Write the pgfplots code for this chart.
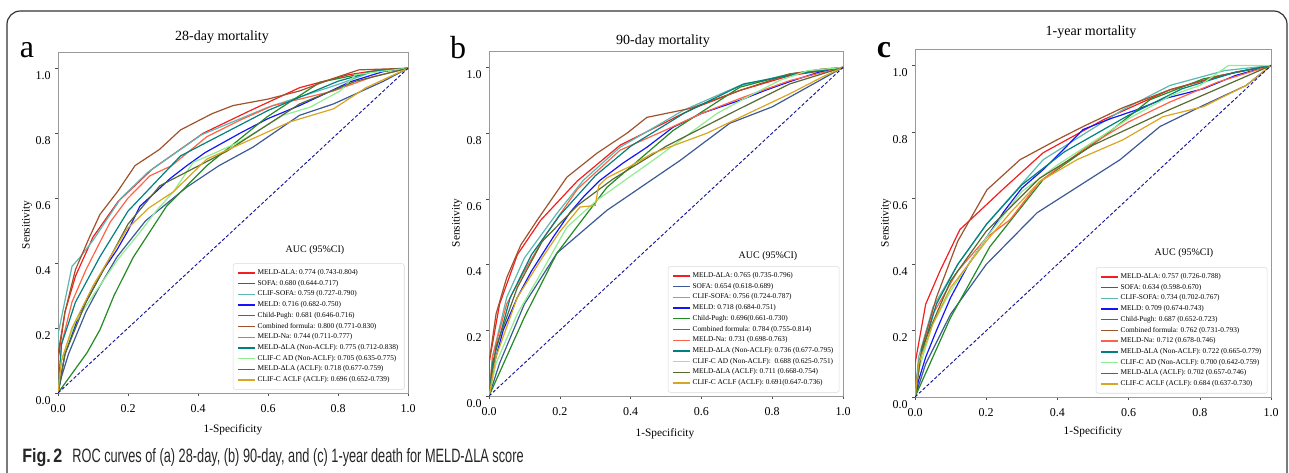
\documentclass[border=0pt]{standalone}
\usepackage{fontspec}
\setmainfont{Liberation Serif}
\newfontfamily\capfont{Liberation Sans}
\usepackage{graphicx}
\usepackage{pgfplots}
\pgfplotsset{compat=1.18}

\definecolor{cMLA}{RGB}{245,30,30}
\definecolor{cSOFA}{RGB}{61,89,151}
\definecolor{cCSOFA}{RGB}{92,184,178}
\definecolor{cMELD}{RGB}{20,20,250}
\definecolor{cCP}{RGB}{34,139,34}
\definecolor{cComb}{RGB}{160,82,45}
\definecolor{cNa}{RGB}{255,99,71}
\definecolor{cNon}{RGB}{0,128,128}
\definecolor{cAD}{RGB}{144,238,144}
\definecolor{cACLF}{RGB}{85,107,47}
\definecolor{cCACLF}{RGB}{218,165,32}
\definecolor{cDiag}{RGB}{20,20,150}

\pgfplotsset{
  rocax/.style={
    scale only axis, anchor=south west,
    xmin=0, xmax=1, ymin=0, ymax=1.05,
    xtick={0,0.2,0.4,0.6,0.8,1.0}, ytick={0,0.2,0.4,0.6,0.8,1.0},
    xticklabels={0.0,0.2,0.4,0.6,0.8,1.0},
    yticklabels={0.0,0.2,0.4,0.6,0.8,1.0},
    xtick pos=bottom, ytick pos=left, tick align=outside,
    major tick length=2pt,
    axis line style={black!40, line width=0.7pt},
    tick style={black!70, line width=0.4pt},
    tick label style={font=\fontsize{9}{10}\selectfont},
    yticklabel style={yshift=-5.5pt},
    xticklabel style={yshift=-3pt},
    every axis plot/.append style={line width=0.9pt},
    legend style={at={(0.99,0.01)}, anchor=south east, draw=black!15, rounded corners=1.5pt,
      fill=white, font=\fontsize{5.5}{6.3}\selectfont, row sep=0pt, inner sep=3pt,
      nodes={inner sep=1.35pt}},
    legend cell align=left,
    legend image code/.code={\draw[##1, line width=1pt] (0pt,0pt) -- (13pt,0pt);},
  },
}

\begin{document}
\begin{tikzpicture}
\begin{scope}[x=0.75pt, y=-0.75pt, shift={(0pt,354pt)}]
  \useasboundingbox (0,0) rectangle (1289,472);
  \draw[black!80, line width=0.9pt, rounded corners=10pt] (7,490) -- (7,11) -- (1287,11) -- (1287,490);
  % panel letters and titles
  \node[font=\fontsize{24}{26}\selectfont] at (27,50) {a};
  \node[font=\fontsize{24}{26}\selectfont] at (458,48) {b};
  \node[font=\fontsize{24}{26}\selectfont\bfseries] at (884,50) {c};
  \node[font=\fontsize{10.5}{12}\selectfont] at (222,37) {28-day mortality};
  \node[font=\fontsize{10.5}{12}\selectfont] at (663,41) {90-day mortality};
  \node[font=\fontsize{10.5}{12}\selectfont] at (1091,32) {1-year mortality};
  % axis labels
  \node[font=\fontsize{8.5}{10}\selectfont, rotate=90] at (27,225) {Sensitivity};
  \node[font=\fontsize{8.5}{10}\selectfont, rotate=90] at (457,223) {Sensitivity};
  \node[font=\fontsize{8.5}{10}\selectfont, rotate=90] at (886,223) {Sensitivity};
  \node[font=\fontsize{8.5}{10}\selectfont] at (233,430) {1-Specificity};
  \node[font=\fontsize{8.5}{10}\selectfont] at (665,434) {1-Specificity};
  \node[font=\fontsize{8.5}{10}\selectfont] at (1093,432) {1-Specificity};
  % AUC headers
  \node[font=\fontsize{7.5}{9}\selectfont] at (315,250) {AUC (95\%CI)};
  \node[font=\fontsize{7.5}{9}\selectfont] at (768,256) {AUC (95\%CI)};
  \node[font=\fontsize{7.5}{9}\selectfont] at (1184,253) {AUC (95\%CI)};
  % caption
  \node[anchor=west, text=black!85, inner sep=0pt] at (22,458) {\capfont\fontsize{14.5}{16}\selectfont\scalebox{0.83}[1]{\textbf{Fig.\,2}}\hspace{7.5pt}\scalebox{0.66}[1]{ROC curves of (a) 28-day, (b) 90-day, and (c) 1-year death for MELD-ΔLA score}};
\end{scope}

% ---------------- panel a ----------------
\begin{axis}[rocax, at={(43.5pt,59.25pt)}, width=262.5pt, height=255.75pt]
\addplot[cMLA] coordinates {(0,0)(0,0.1)(0.02,0.25)(0.05,0.36)(0.10,0.48)(0.172,0.59)(0.27,0.69)(0.415,0.80)(0.55,0.87)(0.69,0.94)(0.83,0.98)(0.92,0.995)(1,1)};
\addlegendentry{MELD-ΔLA: 0.774 (0.743-0.804)}
\addplot[cSOFA] coordinates {(0,0)(0.01,0.05)(0.03,0.12)(0.08,0.25)(0.12,0.33)(0.168,0.418)(0.25,0.53)(0.368,0.634)(0.46,0.70)(0.557,0.757)(0.69,0.855)(0.787,0.89)(0.93,0.96)(1,1)};
\addlegendentry{SOFA: 0.680 (0.644-0.717)}
\addplot[cCSOFA] coordinates {(0,0)(0,0.18)(0.04,0.39)(0.063,0.418)(0.1,0.47)(0.18,0.60)(0.257,0.68)(0.41,0.795)(0.6,0.88)(0.8,0.95)(0.9,0.99)(1,1)};
\addlegendentry{CLIF-SOFA: 0.759 (0.727-0.790)}
\addplot[cMELD] coordinates {(0,0)(0.01,0.06)(0.02,0.12)(0.04,0.18)(0.06,0.24)(0.08,0.28)(0.1,0.32)(0.13,0.38)(0.168,0.44)(0.2,0.50)(0.234,0.575)(0.28,0.62)(0.32,0.66)(0.368,0.70)(0.42,0.74)(0.47,0.77)(0.52,0.80)(0.6,0.845)(0.69,0.885)(0.76,0.92)(0.834,0.958)(0.93,0.99)(1,1)};
\addlegendentry{MELD: 0.716 (0.682-0.750)}
\addplot[cCP] coordinates {(0,0)(0.083,0.124)(0.12,0.195)(0.16,0.30)(0.215,0.418)(0.31,0.575)(0.425,0.70)(0.597,0.85)(0.749,0.957)(0.9,0.99)(1,1)};
\addlegendentry{Child-Pugh: 0.681 (0.646-0.716)}
\addplot[cComb] coordinates {(0,0)(0,0.12)(0.02,0.25)(0.05,0.38)(0.09,0.48)(0.12,0.55)(0.17,0.62)(0.22,0.70)(0.29,0.75)(0.35,0.81)(0.44,0.86)(0.5,0.885)(0.6,0.905)(0.69,0.93)(0.79,0.97)(0.86,0.995)(1,1)};
\addlegendentry{Combined formula: 0.800 (0.771-0.830)}
\addplot[cNa] coordinates {(0,0)(0.01,0.15)(0.04,0.28)(0.08,0.38)(0.149,0.526)(0.2,0.60)(0.263,0.669)(0.325,0.70)(0.425,0.789)(0.52,0.84)(0.614,0.885)(0.787,0.93)(0.897,0.973)(1,1)};
\addlegendentry{MELD-Na: 0.744 (0.711-0.777)}
\addplot[cNon] coordinates {(0,0)(0.01,0.15)(0.05,0.28)(0.12,0.42)(0.2,0.56)(0.35,0.73)(0.6,0.87)(0.8,0.96)(0.9,0.99)(1,1)};
\addlegendentry{MELD-ΔLA (Non-ACLF): 0.775 (0.712-0.838)}
\addplot[cAD] coordinates {(0,0)(0.01,0.1)(0.05,0.22)(0.1,0.3)(0.17,0.41)(0.234,0.495)(0.28,0.56)(0.33,0.62)(0.386,0.71)(0.45,0.74)(0.52,0.774)(0.643,0.855)(0.72,0.88)(0.806,0.93)(0.85,0.98)(0.92,0.99)(1,1)};
\addlegendentry{CLIF-C AD (Non-ACLF): 0.705 (0.635-0.775)}
\addplot[cACLF] coordinates {(0,0)(0.02,0.12)(0.08,0.28)(0.15,0.42)(0.2,0.52)(0.291,0.638)(0.483,0.745)(0.69,0.89)(0.85,0.96)(1,1)};
\addlegendentry{MELD-ΔLA (ACLF): 0.718 (0.677-0.759)}
\addplot[cCACLF] coordinates {(0,0)(0.01,0.1)(0.04,0.2)(0.1,0.33)(0.197,0.505)(0.26,0.57)(0.33,0.62)(0.425,0.72)(0.55,0.78)(0.663,0.835)(0.787,0.875)(0.88,0.94)(0.94,0.97)(1,1)};
\addlegendentry{CLIF-C ACLF (ACLF): 0.696 (0.652-0.739)}
\addplot[cDiag, dash pattern=on 2.5pt off 1.5pt, line width=0.7pt, forget plot] coordinates {(0,0)(1,1)};
\end{axis}

% ---------------- panel b ----------------
\begin{axis}[rocax, at={(366.75pt,57pt)}, width=265.5pt, height=258.75pt]
\addplot[cMLA] coordinates {(0,0)(0,0.1)(0.03,0.28)(0.08,0.43)(0.146,0.535)(0.25,0.655)(0.37,0.763)(0.576,0.875)(0.709,0.93)(0.85,0.975)(1,1)};
\addlegendentry{MELD-ΔLA: 0.765 (0.735-0.796)}
\addplot[cSOFA] coordinates {(0,0)(0.03,0.1)(0.1,0.28)(0.192,0.435)(0.333,0.565)(0.54,0.717)(0.68,0.83)(0.8,0.88)(0.9,0.94)(1,1)};
\addlegendentry{SOFA: 0.654 (0.618-0.689)}
\addplot[cCSOFA] coordinates {(0,0)(0.01,0.12)(0.05,0.3)(0.1,0.42)(0.192,0.556)(0.266,0.656)(0.37,0.757)(0.55,0.87)(0.709,0.945)(0.85,0.98)(1,1)};
\addlegendentry{CLIF-SOFA: 0.756 (0.724-0.787)}
\addplot[cMELD] coordinates {(0,0)(0.01,0.08)(0.04,0.2)(0.08,0.3)(0.12,0.38)(0.181,0.483)(0.23,0.56)(0.27,0.61)(0.313,0.656)(0.38,0.71)(0.446,0.757)(0.52,0.818)(0.6,0.86)(0.709,0.90)(0.78,0.93)(0.85,0.957)(0.93,0.985)(1,1)};
\addlegendentry{MELD: 0.718 (0.684-0.751)}
\addplot[cCP] coordinates {(0,0)(0.05,0.12)(0.1,0.24)(0.192,0.435)(0.333,0.635)(0.52,0.808)(0.709,0.94)(0.85,0.98)(1,1)};
\addlegendentry{Child-Pugh: 0.696(0.661-0.730)}
\addplot[cComb] coordinates {(0,0)(0,0.1)(0.02,0.25)(0.05,0.36)(0.09,0.46)(0.136,0.535)(0.22,0.666)(0.305,0.739)(0.39,0.80)(0.446,0.848)(0.568,0.875)(0.709,0.93)(0.85,0.98)(0.94,0.995)(1,1)};
\addlegendentry{Combined formula: 0.784 (0.755-0.814)}
\addplot[cNa] coordinates {(0,0)(0.01,0.12)(0.05,0.28)(0.1,0.38)(0.16,0.49)(0.25,0.63)(0.37,0.748)(0.5,0.81)(0.6,0.86)(0.72,0.91)(0.85,0.96)(1,1)};
\addlegendentry{MELD-Na: 0.731 (0.698-0.763)}
\addplot[cNon] coordinates {(0,0)(0.01,0.1)(0.06,0.3)(0.12,0.43)(0.2,0.55)(0.3,0.67)(0.4,0.76)(0.55,0.86)(0.72,0.95)(0.87,0.98)(1,1)};
\addlegendentry{MELD-ΔLA (Non-ACLF): 0.736 (0.677-0.795)}
\addplot[cAD] coordinates {(0,0)(0.02,0.1)(0.08,0.25)(0.15,0.38)(0.22,0.514)(0.305,0.596)(0.37,0.646)(0.463,0.717)(0.54,0.778)(0.644,0.86)(0.73,0.91)(0.82,0.96)(0.9,0.99)(1,1)};
\addlegendentry{CLIF-C AD (Non-ACLF):\ \ 0.688 (0.625-0.751)}
\addplot[cACLF] coordinates {(0,0)(0.02,0.15)(0.08,0.33)(0.15,0.47)(0.25,0.58)(0.35,0.66)(0.5,0.76)(0.7,0.87)(0.85,0.95)(1,1)};
\addlegendentry{MELD-ΔLA (ACLF): 0.711 (0.668-0.754)}
\addplot[cCACLF] coordinates {(0,0)(0.02,0.12)(0.08,0.3)(0.15,0.42)(0.2,0.5)(0.257,0.575)(0.3,0.58)(0.31,0.64)(0.333,0.664)(0.4,0.70)(0.463,0.739)(0.616,0.80)(0.709,0.848)(0.85,0.92)(0.94,0.97)(1,1)};
\addlegendentry{CLIF-C ACLF (ACLF): 0.691(0.647-0.736)}
\addplot[cDiag, dash pattern=on 2.5pt off 1.5pt, line width=0.7pt, forget plot] coordinates {(0,0)(1,1)};
\end{axis}

% ---------------- panel c ----------------
\begin{axis}[rocax, at={(686.25pt,56.25pt)}, width=267pt, height=261pt]
\addplot[cMLA] coordinates {(0,0)(0,0.1)(0.03,0.28)(0.07,0.38)(0.126,0.505)(0.25,0.63)(0.36,0.737)(0.53,0.837)(0.716,0.927)(0.9,0.98)(1,1)};
\addlegendentry{MELD-ΔLA: 0.757 (0.726-0.788)}
\addplot[cSOFA] coordinates {(0,0)(0.03,0.1)(0.1,0.25)(0.2,0.4)(0.343,0.556)(0.576,0.716)(0.688,0.816)(0.81,0.88)(0.93,0.94)(1,1)};
\addlegendentry{SOFA: 0.634 (0.598-0.670)}
\addplot[cCSOFA] coordinates {(0,0)(0.01,0.12)(0.05,0.27)(0.12,0.4)(0.202,0.523)(0.36,0.716)(0.584,0.867)(0.716,0.94)(0.87,0.985)(1,1)};
\addlegendentry{CLIF-SOFA: 0.734 (0.702-0.767)}
\addplot[cMELD] coordinates {(0,0)(0.01,0.05)(0.03,0.12)(0.06,0.2)(0.1,0.3)(0.15,0.4)(0.202,0.483)(0.25,0.56)(0.3,0.63)(0.36,0.686)(0.42,0.75)(0.472,0.807)(0.55,0.84)(0.624,0.867)(0.7,0.9)(0.81,0.93)(0.9,0.97)(1,1)};
\addlegendentry{MELD: 0.709 (0.674-0.743)}
\addplot[cCP] coordinates {(0,0)(0.05,0.12)(0.1,0.24)(0.21,0.453)(0.36,0.656)(0.53,0.786)(0.66,0.897)(0.81,0.96)(1,1)};
\addlegendentry{Child-Pugh: 0.687 (0.652-0.723)}
\addplot[cComb] coordinates {(0,0)(0.02,0.15)(0.06,0.3)(0.12,0.47)(0.202,0.625)(0.295,0.716)(0.399,0.776)(0.472,0.816)(0.584,0.873)(0.716,0.927)(0.857,0.97)(1,1)};
\addlegendentry{Combined formula: 0.762 (0.731-0.793)}
\addplot[cNa] coordinates {(0,0)(0.01,0.1)(0.05,0.25)(0.12,0.38)(0.2,0.48)(0.267,0.535)(0.35,0.65)(0.483,0.755)(0.6,0.83)(0.716,0.89)(0.85,0.95)(1,1)};
\addlegendentry{MELD-Na: 0.712 (0.678-0.746)}
\addplot[cNon] coordinates {(0,0)(0.01,0.1)(0.06,0.28)(0.12,0.4)(0.2,0.52)(0.3,0.64)(0.42,0.74)(0.6,0.85)(0.75,0.93)(0.9,0.98)(1,1)};
\addlegendentry{MELD-ΔLA (Non-ACLF): 0.722 (0.665-0.779)}
\addplot[cAD] coordinates {(0,0)(0.01,0.08)(0.05,0.22)(0.1,0.32)(0.2,0.48)(0.3,0.62)(0.4,0.70)(0.5,0.77)(0.6,0.84)(0.72,0.91)(0.8,0.94)(0.88,1.0)(1,1)};
\addlegendentry{CLIF-C AD (Non-ACLF): 0.700 (0.642-0.759)}
\addplot[cACLF] coordinates {(0,0)(0.02,0.15)(0.1,0.35)(0.2,0.5)(0.35,0.66)(0.5,0.76)(0.7,0.86)(0.85,0.93)(1,1)};
\addlegendentry{MELD-ΔLA (ACLF): 0.702 (0.657-0.746)}
\addplot[cCACLF] coordinates {(0,0)(0.01,0.1)(0.05,0.22)(0.1,0.33)(0.2,0.47)(0.267,0.555)(0.35,0.65)(0.455,0.716)(0.584,0.776)(0.697,0.846)(0.81,0.876)(0.93,0.94)(1,1)};
\addlegendentry{CLIF-C ACLF (ACLF): 0.684 (0.637-0.730)}
\addplot[cDiag, dash pattern=on 2.5pt off 1.5pt, line width=0.7pt, forget plot] coordinates {(0,0)(1,1)};
\end{axis}
\end{tikzpicture}
\end{document}
